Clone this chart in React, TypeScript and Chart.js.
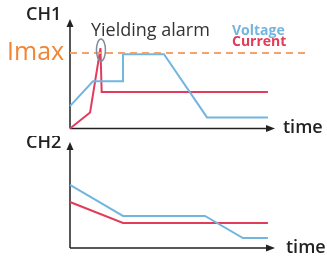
import React, { useEffect, useRef } from "react";
import { Chart, registerables } from "chart.js";
Chart.register(...registerables);

// CH1 (top panel) – time on 0..100, level on 0..100
const ch1VoltageT = [0, 11.3, 26.1, 26.1, 46.3, 67.5, 97.5];
const ch1VoltageV = [21, 44.3, 44.3, 69.8, 69.8, 10.4, 10.4];
const ch1CurrentT = [0, 9.9, 15, 15.6, 97.5];
const ch1CurrentV = [0, 15, 75.5, 34.2, 34.2];
const imaxT = [0, 118];
const imaxV = [70.8, 70.8];

// CH2 (bottom panel)
const ch2VoltageT = [0, 26.1, 66.5, 85.2, 97.5];
const ch2VoltageV = [61.2, 31.1, 31.1, 9.7, 9.7];
const ch2CurrentT = [0, 26.1, 97.5];
const ch2CurrentV = [44.7, 24.3, 24.3];

const BLUE = "#72b6e0";
const RED = "#e23c5a";
const ORANGE = "#ef8535";
const ORANGE_DASH = "#f3a26a";
const AXIS = "#222";
const FONT = "'Open Sans', 'Noto Sans', sans-serif";

const pts = (t: number[], v: number[]) => t.map((x, i) => ({ x, y: v[i] }));

type Label = { text: string; x: number; y: number; font: string; color: string };

function makeChart(
  canvas: HTMLCanvasElement,
  datasets: any[],
  padding: { left: number; right: number; top: number; bottom: number },
  labels: Label[],
  ellipse: boolean
) {
  const axesPlugin = {
    id: "axesArrows",
    beforeDatasetsDraw(chart: any) {
      const { ctx, chartArea } = chart;
      const { left, right, top, bottom } = chartArea;
      ctx.save();
      ctx.strokeStyle = AXIS;
      ctx.fillStyle = AXIS;
      ctx.lineWidth = 1.5;
      ctx.beginPath();
      ctx.moveTo(left, bottom);
      ctx.lineTo(left, top - 1);
      ctx.moveTo(left, bottom);
      ctx.lineTo(right - 4, bottom);
      ctx.stroke();
      // arrow up
      ctx.beginPath();
      ctx.moveTo(left, top - 3);
      ctx.lineTo(left - 3.5, top + 5);
      ctx.lineTo(left + 3.5, top + 5);
      ctx.closePath();
      ctx.fill();
      // arrow right
      ctx.beginPath();
      ctx.moveTo(right + 2, bottom);
      ctx.lineTo(right - 7, bottom - 3.5);
      ctx.lineTo(right - 7, bottom + 3.5);
      ctx.closePath();
      ctx.fill();
      ctx.restore();
    },
    afterDatasetsDraw(chart: any) {
      const { ctx } = chart;
      ctx.save();
      if (ellipse) {
        const xs = chart.scales.x;
        const ys = chart.scales.y;
        const cx = xs.getPixelForValue(ch1CurrentT[2]) + 0.5;
        const cy = ys.getPixelForValue(ch1CurrentV[2]) + 2;
        ctx.strokeStyle = "#7f8e9c";
        ctx.lineWidth = 1.5;
        ctx.beginPath();
        ctx.ellipse(cx, cy, 4.5, 11, 0, 0, Math.PI * 2);
        ctx.stroke();
      }
      ctx.textBaseline = "middle";
      ctx.textAlign = "left";
      for (const l of labels) {
        ctx.font = l.font;
        ctx.fillStyle = l.color;
        ctx.fillText(l.text, l.x, l.y);
      }
      ctx.restore();
    },
  };

  return new Chart(canvas, {
    type: "line",
    data: { datasets },
    options: {
      animation: false,
      responsive: false,
      devicePixelRatio: 1,
      layout: { padding },
      plugins: { legend: { display: false }, tooltip: { enabled: false } },
      elements: { point: { radius: 0 }, line: { tension: 0 } },
      scales: {
        x: { type: "linear", min: 0, max: 100, display: false },
        y: { type: "linear", min: 0, max: 100, display: false },
      },
    },
    plugins: [axesPlugin],
  } as any);
}

export default function App() {
  const topRef = useRef<HTMLCanvasElement>(null);
  const botRef = useRef<HTMLCanvasElement>(null);

  useEffect(() => {
    const top = makeChart(
      topRef.current!,
      [
        {
          data: pts(imaxT, imaxV),
          borderColor: ORANGE_DASH,
          borderWidth: 2,
          borderDash: [7, 5],
          clip: false,
        },
        { data: pts(ch1VoltageT, ch1VoltageV), borderColor: BLUE, borderWidth: 2, clip: false },
        { data: pts(ch1CurrentT, ch1CurrentV), borderColor: RED, borderWidth: 2, clip: false },
      ],
      { left: 70, right: 54, top: 22, bottom: 7.5 },
      [
        { text: "CH1", x: 26, y: 15, font: `600 18px ${FONT}`, color: "#222" },
        { text: "Imax", x: 7, y: 53, font: `25px ${FONT}`, color: ORANGE },
        { text: "Yielding alarm", x: 91, y: 31, font: `18px ${FONT}`, color: "#333" },
        { text: "Voltage", x: 232, y: 31, font: `bold 14px ${FONT}`, color: BLUE },
        { text: "Current", x: 232, y: 42.5, font: `bold 14px ${FONT}`, color: RED },
        { text: "time", x: 283, y: 128, font: `600 18px ${FONT}`, color: "#222" },
      ],
      true
    );
    const bot = makeChart(
      botRef.current!,
      [
        { data: pts(ch2VoltageT, ch2VoltageV), borderColor: BLUE, borderWidth: 2, clip: false },
        { data: pts(ch2CurrentT, ch2CurrentV), borderColor: RED, borderWidth: 2, clip: false },
      ],
      { left: 70, right: 54, top: 9, bottom: 14 },
      [
        { text: "CH2", x: 26, y: 7, font: `600 18px ${FONT}`, color: "#222" },
        { text: "time", x: 286, y: 112, font: `600 18px ${FONT}`, color: "#222" },
      ],
      false
    );
    return () => {
      top.destroy();
      bot.destroy();
    };
  }, []);

  return (
    <div style={{ position: "fixed", left: 0, top: 0, width: 327, height: 262, background: "#fff" }}>
      <canvas ref={topRef} width={327} height={136} style={{ position: "absolute", left: 0, top: 0 }} />
      <canvas ref={botRef} width={327} height={126} style={{ position: "absolute", left: 0, top: 136 }} />
    </div>
  );
}
